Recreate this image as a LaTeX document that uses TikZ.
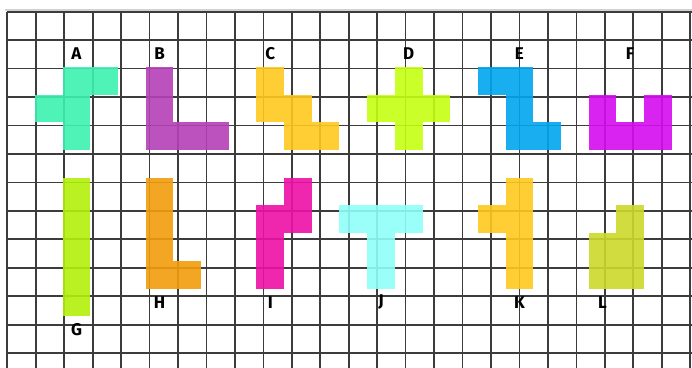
\documentclass[tikz,border=0pt]{standalone}
\usepackage{fontspec}
\setmainfont{Fira Sans}
\definecolor{cA}{HTML}{3EF2B0}
\definecolor{cB}{HTML}{B540B8}
\definecolor{cC}{HTML}{FFC81E}
\definecolor{cD}{HTML}{C6FF12}
\definecolor{cE}{HTML}{00A6EE}
\definecolor{cF}{HTML}{D50DF0}
\definecolor{cG}{HTML}{B2F00C}
\definecolor{cH}{HTML}{F29D0D}
\definecolor{cI}{HTML}{EE0FA6}
\definecolor{cJ}{HTML}{8EFFF8}
\definecolor{cK}{HTML}{FFC81E}
\definecolor{cL}{HTML}{CCD92B}
\definecolor{gridc}{HTML}{3C3C3C}
\begin{document}
\begin{tikzpicture}[x=1pt,y=-1pt,
  gridline/.style={draw=gridc,line width=1.7pt},
  piece/.style={fill opacity=0.9},
  lab/.style={font=\fontsize{17}{17}\selectfont\bfseries,text=black,inner sep=0pt}]
\useasboundingbox (0,0) rectangle (692,367);
\clip (0,0) rectangle (692,367);
\fill[white] (0,0) rectangle (692,367);
\draw[gray!35,line width=2pt] (5,9.6) -- (692,9.6);
\begin{scope}[shift={(7.3,11.7)},x=27.68pt,y=-27.68pt]
  \draw[gridline] (0,0) grid (25,13);
  \foreach \c/\cx/\cy in {
    cA/2/2,cA/3/2,cA/1/3,cA/2/3,cA/2/4,
    cB/5/2,cB/5/3,cB/5/4,cB/6/4,cB/7/4,
    cC/9/2,cC/9/3,cC/10/3,cC/10/4,cC/11/4,
    cD/14/2,cD/13/3,cD/14/3,cD/15/3,cD/14/4,
    cE/17/2,cE/18/2,cE/18/3,cE/18/4,cE/19/4,
    cF/21/3,cF/23/3,cF/21/4,cF/22/4,cF/23/4,
    cG/2/6,cG/2/7,cG/2/8,cG/2/9,cG/2/10,
    cH/5/6,cH/5/7,cH/5/8,cH/5/9,cH/6/9,
    cI/10/6,cI/9/7,cI/10/7,cI/9/8,cI/9/9,
    cJ/12/7,cJ/13/7,cJ/14/7,cJ/13/8,cJ/13/9,
    cK/18/6,cK/17/7,cK/18/7,cK/18/8,cK/18/9,
    cL/22/7,cL/21/8,cL/22/8,cL/21/9,cL/22/9}
    {\fill[piece,fill=\c] (\cx,\cy) rectangle ++(1,1);}
  \foreach \t/\lx/\ly in {A/2/1,B/5/1,C/9/1,D/14/1,E/18/1,F/22/1,
    G/2/11,H/5/10,I/9/10,J/13/10,K/18/10,L/21/10}
    {\node[lab] (lab\t) at (\lx+0.5,\ly+0.5) {\t};}
\end{scope}
\end{tikzpicture}
\end{document}
